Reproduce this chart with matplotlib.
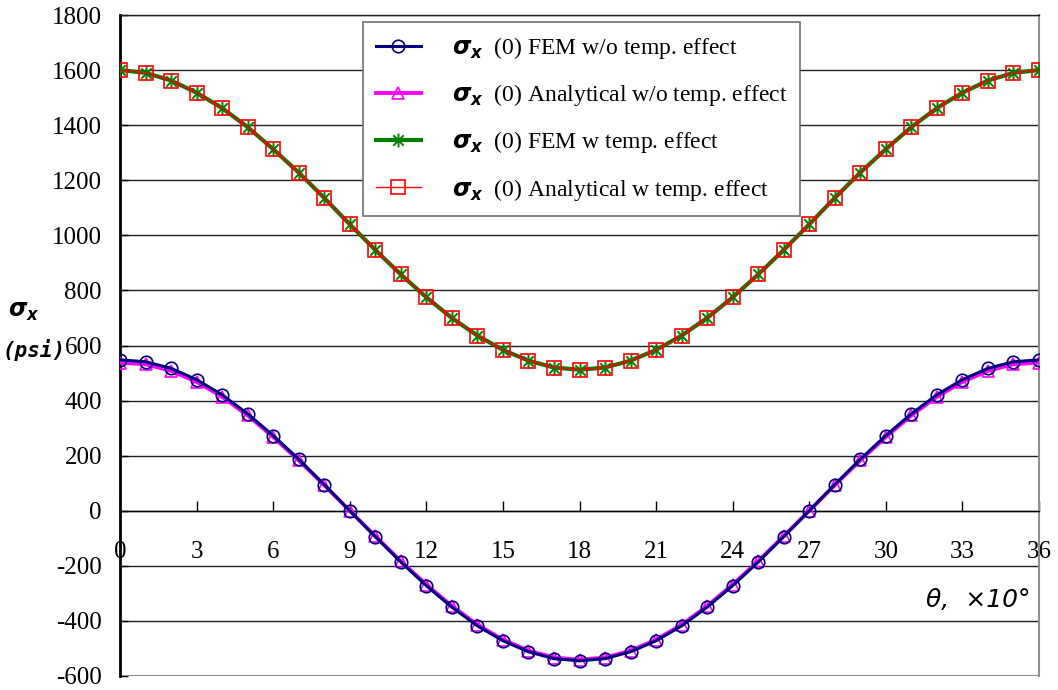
import matplotlib
matplotlib.use("Agg")
import matplotlib.pyplot as plt
from matplotlib.path import Path

plt.rcParams['mathtext.fontset'] = 'custom'
plt.rcParams['mathtext.bf'] = 'DejaVu Sans:bold:italic'
plt.rcParams['mathtext.rm'] = 'DejaVu Sans:bold'
plt.rcParams['font.family'] = ['Liberation Serif', 'DejaVu Serif']

# Angle positions (x10 degrees)
theta = list(range(0, 37))

# Stress sigma_x(0) without temperature effect (psi)
fem_no_temp = [548, 541, 517, 476, 421, 352, 273, 187, 95, 0, -94, -186, -272, -350, -418,
               -472, -512, -537, -545, -537, -512, -472, -418, -350, -272, -186, -94, 0,
               95, 187, 273, 352, 421, 476, 517, 541, 548]
ana_no_temp = [538, 532, 508, 468, 414, 346, 268, 183, 93, 0, -92, -183, -268, -346, -414,
               -468, -508, -533, -541, -533, -508, -468, -414, -346, -268, -183, -92, 0,
               93, 183, 268, 346, 414, 468, 508, 532, 538]

# Stress sigma_x(0) with temperature effect (psi)
fem_temp = [1600, 1590, 1562, 1518, 1462, 1393, 1313, 1228, 1136, 1040, 947, 858, 775, 700,
            636, 584, 545, 520, 512, 520, 545, 584, 636, 700, 775, 858, 947, 1040, 1136,
            1228, 1313, 1393, 1462, 1518, 1562, 1590, 1600]
ana_temp = [1600, 1590, 1562, 1518, 1462, 1393, 1313, 1228, 1136, 1040, 947, 858, 775, 700,
            636, 584, 545, 520, 512, 520, 545, 584, 636, 700, 775, 858, 947, 1040, 1136,
            1228, 1313, 1393, 1462, 1518, 1562, 1590, 1600]

labels = [r"$\mathbf{\sigma_x}$  (0) FEM w/o temp. effect",
          r"$\mathbf{\sigma_x}$  (0) Analytical w/o temp. effect",
          r"$\mathbf{\sigma_x}$  (0) FEM w temp. effect",
          r"$\mathbf{\sigma_x}$  (0) Analytical w temp. effect"]

x_ticks = list(range(0, 37, 3))
y_ticks = list(range(-600, 1801, 200))

# Excel-style star: vertical bar plus an X
star = Path([(0, -1), (0, 1), (-0.75, -0.75), (0.75, 0.75), (-0.75, 0.75), (0.75, -0.75)],
            [Path.MOVETO, Path.LINETO, Path.MOVETO, Path.LINETO, Path.MOVETO, Path.LINETO])

fig = plt.figure(figsize=(10.58, 6.90), dpi=100)
ax = fig.add_axes([120 / 1058, 1 - 676 / 690, 919 / 1058, 661 / 690])

ax.plot(theta, fem_no_temp, color='#000080', lw=2.2, marker='o', ms=9,
        mfc='none', mec='#000080', mew=1.2, label=labels[0], zorder=4)
ax.plot(theta, ana_no_temp, color='#ff00ff', lw=2.8, marker='^', ms=9,
        mfc='none', mec='#ff00ff', mew=1.2, label=labels[1], zorder=3)
ax.plot(theta, fem_temp, color='#008000', lw=3.0, marker=star, ms=10,
        mfc='none', mec='#008000', mew=1.4, label=labels[2], zorder=3)
ax.plot(theta, ana_temp, color='#ff0000', lw=1.0, marker='s', ms=10,
        mfc='none', mec='#ff0000', mew=1.2, label=labels[3], zorder=4)

ax.set_xlim(0, 36)
ax.set_ylim(-600, 1800)
ax.set_xticks(x_ticks)
ax.set_yticks(y_ticks)
ax.set_yticklabels([str(v) for v in y_ticks])

for v in y_ticks:
    ax.axhline(v, color='#202020', lw=1.0, zorder=1)
ax.axhline(-600, color='#909090', lw=1.5, zorder=2)

ax.spines['bottom'].set_position(('data', 0))
ax.spines['bottom'].set_color('black')
ax.spines['bottom'].set_linewidth(1.0)
ax.spines['left'].set_color('black')
ax.spines['left'].set_linewidth(2.0)
ax.spines['right'].set_color('#909090')
ax.spines['right'].set_linewidth(1.5)
ax.spines['top'].set_color('#202020')
ax.spines['top'].set_linewidth(1.0)

ax.tick_params(axis='x', direction='in', length=7, width=1, pad=22, labelsize=18, colors='black')
ax.tick_params(axis='y', direction='in', length=6, width=1, pad=13, labelsize=18)

leg = ax.legend(loc='upper left', bbox_to_anchor=((363 - 120) / 919, (676 - 22) / 661),
                borderaxespad=0, fontsize=17, frameon=True, fancybox=False,
                edgecolor='#707070', framealpha=1, labelspacing=0.9, handlelength=1.9,
                handletextpad=1.3, borderpad=0.55, numpoints=1)
leg.get_frame().set_linewidth(1.2)
leg.set_zorder(10)

fig.text(8 / 1058, 1 - 312 / 690, r"$\mathbf{\sigma_x}$", fontsize=17, va='center', ha='left')
fig.text(3 / 1058, 1 - 350 / 690, "(psi)", fontsize=15, va='center', ha='left',
         family='DejaVu Sans Mono', fontweight='bold', style='italic')
fig.text(1030 / 1058, 1 - 600 / 690, "θ,  ×10°", fontsize=18, va='center', ha='right',
         family='DejaVu Sans', style='italic')

fig.savefig("out.png", dpi=100)
